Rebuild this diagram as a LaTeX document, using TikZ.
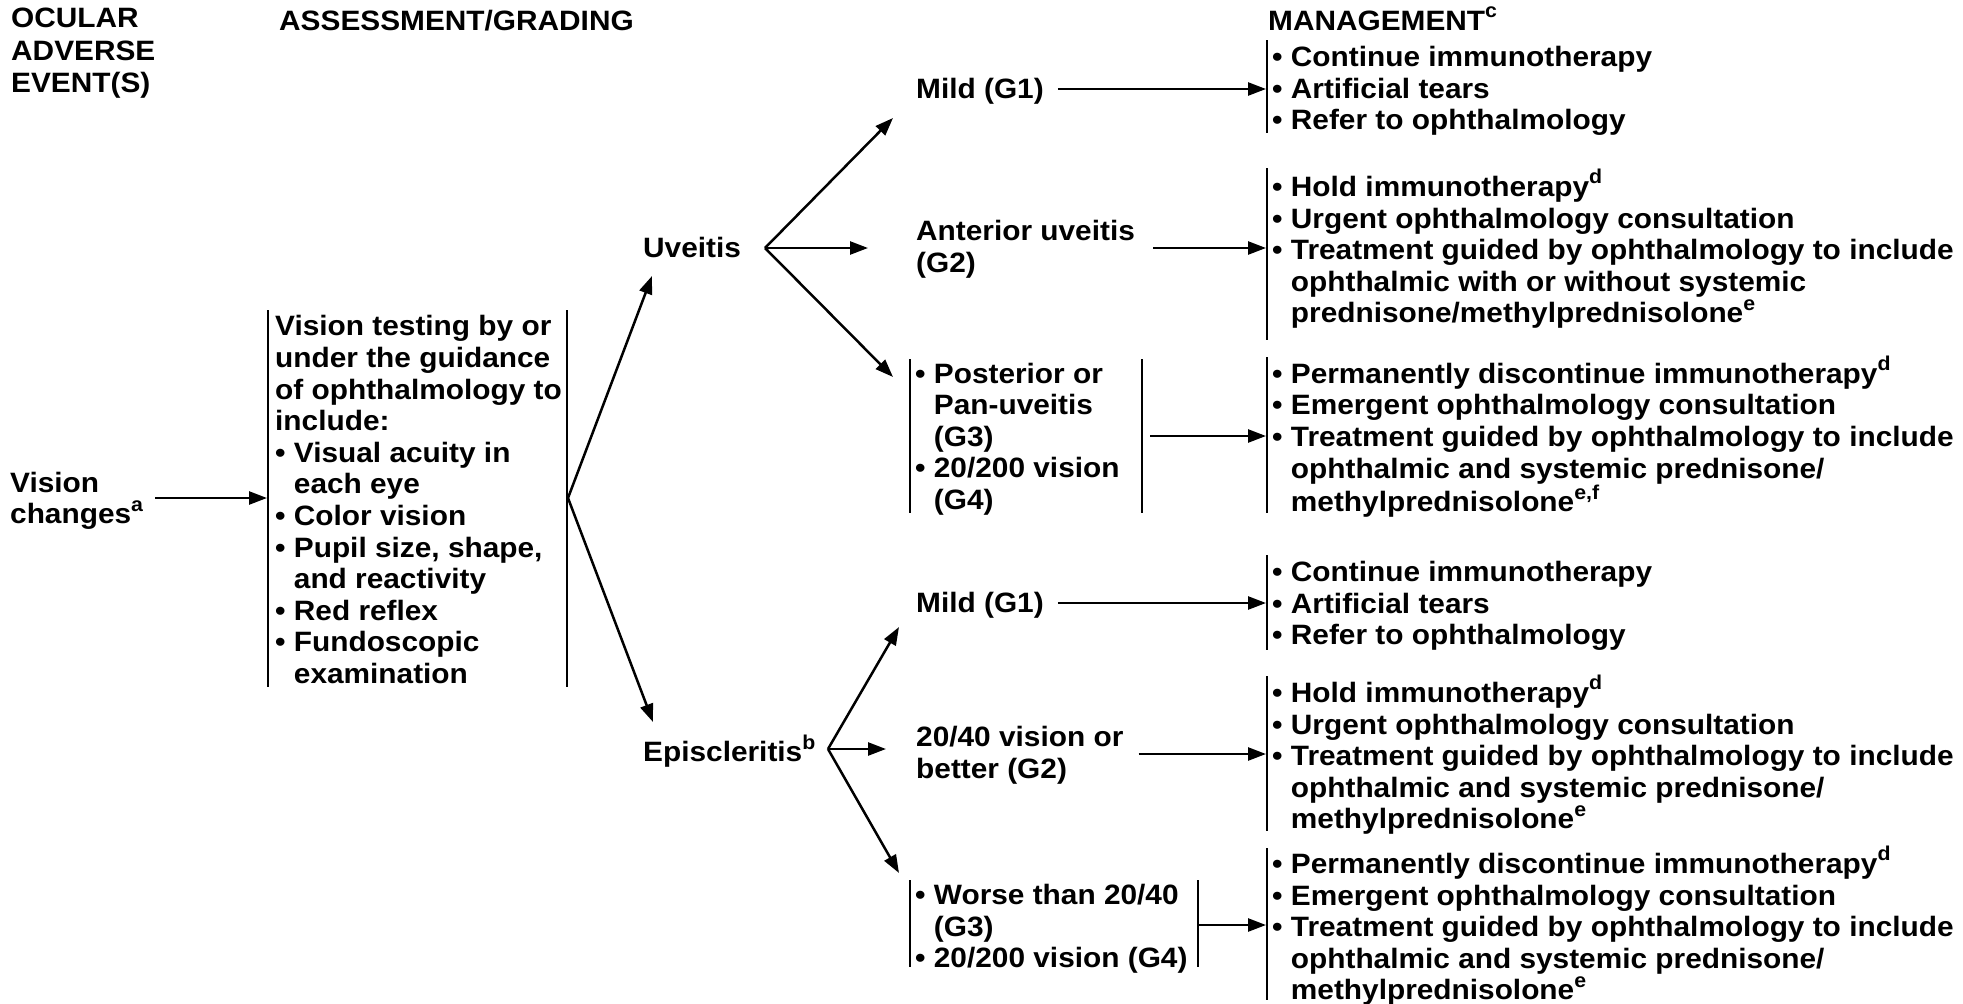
\documentclass[tikz,border=0pt]{standalone}
\usepackage{fontspec}
\newfontfamily\ff{Liberation Sans}[FakeStretch=1.065]
\usetikzlibrary{arrows.meta,calc}
\newcommand\sps[1]{\raisebox{0.45em}{\fontsize{20}{20}\selectfont #1}}
\newcommand\ind{\hphantom{• }}
\newcommand\Sx{\rule[-5pt]{0pt}{28pt}}
\tikzset{
 txt/.style={font=\ff\bfseries\fontsize{28}{31.6}\selectfont, align=left, inner sep=0pt, anchor=west,
   execute at begin node=\Sx, execute at end node=\Sx},
 hdr/.style={txt, font=\ff\bfseries\fontsize{28}{32.5}\selectfont},
 arr/.style={line width=2.5pt, -{Triangle[length=18pt,width=13pt]}},
 bar/.style={line width=2.5pt},
}
\begin{document}
\begin{tikzpicture}[x=1pt,y=-1pt]
\useasboundingbox (0,0) rectangle (1963,1004);
% headers
\node[hdr] (h1) at (11,53.5) {OCULAR\\ADVERSE\\EVENT(S)};
\node[hdr] (h2) at (279,21) {ASSESSMENT/GRADING};
\node[hdr] (h3) at (1268,21) {MANAGEMENT\sps{c}};
% first column
\node[txt] (vc) at (10,501) {Vision\\changes\sps{a}};
\node[txt] (as) at (275,502) {Vision testing by or\\under the guidance\\of ophthalmology to\\include:\\• Visual acuity in\\\ind each eye\\• Color vision\\• Pupil size, shape,\\\ind and reactivity\\• Red reflex\\• Fundoscopic\\\ind examination};
\draw[bar] (268,310) -- (268,687);
\draw[bar] (567,310) -- (567,687);
\coordinate (asL) at (267,498);
\coordinate (asF) at (568,498);
\draw[arr] ([xshift=12pt]vc.east |- asL) -- (asL);
% second column
\node[txt] (uv) at (643,248) {Uveitis};
\node[txt] (ep) at (643,751) {Episcleritis\sps{b}};
\coordinate (uvIn) at (652,276);
\coordinate (epIn) at (653,722);
\draw[arr] (asF) -- (uvIn);
\draw[arr] (asF) -- (epIn);
\coordinate (uvF) at (765,248);
\coordinate (epF) at (828,749);
% grades, uveitis
\node[txt] (m1u) at (916,89.5) {Mild (G1)};
\node[txt] (ant) at (916,249.5) {Anterior uveitis\\(G2)};
\node[txt] (post) at (915,439) {• Posterior or\\\ind Pan-uveitis\\\ind (G3)\\• 20/200 vision\\\ind (G4)};
\draw[bar] (910,359) -- (910,513);
\draw[bar] (1142,359) -- (1142,513);
\coordinate (postR) at (1142,436);
\coordinate (u1) at (893,118);
\coordinate (u2) at (868,248);
\coordinate (u3) at (893,377);
\draw[arr] (uvF) -- (u1);
\draw[arr] (uvF) -- (u2);
\draw[arr] (uvF) -- (u3);
% grades, episcleritis
\node[txt] (m1e) at (916,604) {Mild (G1)};
\node[txt] (g2e) at (916,755) {20/40 vision or\\better (G2)};
\node[txt] (worse) at (915,929) {• Worse than 20/40\\\ind (G3)\\• 20/200 vision (G4)};
\draw[bar] (910,880) -- (910,967);
\draw[bar] (1198,880) -- (1198,967);
\coordinate (worseR) at (1198,925);
\coordinate (e1) at (899,627);
\coordinate (e2) at (886,749);
\coordinate (e3) at (899,873);
\draw[arr] (epF) -- (e1);
\draw[arr] (epF) -- (e2);
\draw[arr] (epF) -- (e3);
% management
\node[txt] (M1) at (1272,91) {• Continue immunotherapy\\• Artificial tears\\• Refer to ophthalmology};
\node[txt] (M2) at (1272,249) {• Hold immunotherapy\sps{d}\\• Urgent ophthalmology consultation\\• Treatment guided by ophthalmology to include\\\ind ophthalmic with or without systemic\\\ind prednisone/methylprednisolone\sps{e}};
\node[txt] (M3) at (1272,437) {• Permanently discontinue immunotherapy\sps{d}\\• Emergent ophthalmology consultation\\• Treatment guided by ophthalmology to include\\\ind ophthalmic and systemic prednisone/\\\ind methylprednisolone\sps{e,f}};
\node[txt] (M4) at (1272,606) {• Continue immunotherapy\\• Artificial tears\\• Refer to ophthalmology};
\node[txt] (M5) at (1272,755) {• Hold immunotherapy\sps{d}\\• Urgent ophthalmology consultation\\• Treatment guided by ophthalmology to include\\\ind ophthalmic and systemic prednisone/\\\ind methylprednisolone\sps{e}};
\node[txt] (M6) at (1272,926) {• Permanently discontinue immunotherapy\sps{d}\\• Emergent ophthalmology consultation\\• Treatment guided by ophthalmology to include\\\ind ophthalmic and systemic prednisone/\\\ind methylprednisolone\sps{e}};
\draw[bar] (1267,40) -- (1267,133);
\draw[bar] (1267,168) -- (1267,340);
\draw[bar] (1267,357) -- (1267,513);
\draw[bar] (1267,555) -- (1267,650);
\draw[bar] (1267,676) -- (1267,831);
\draw[bar] (1267,848) -- (1267,1000);
\coordinate (M1in) at (1266,89);
\coordinate (M2in) at (1266,248);
\coordinate (M3in) at (1266,436);
\coordinate (M4in) at (1266,603);
\coordinate (M5in) at (1266,754);
\coordinate (M6in) at (1266,925);
\draw[arr] ([xshift=14pt]m1u.east |- M1in) -- (M1in);
\draw[arr] ([xshift=18pt]ant.east |- M2in) -- (M2in);
\draw[arr] ([xshift=8pt]postR) -- (M3in);
\draw[arr] ([xshift=14pt]m1e.east |- M4in) -- (M4in);
\draw[arr] ([xshift=15pt]g2e.east |- M5in) -- (M5in);
\draw[arr] (worseR) -- (M6in);
\end{tikzpicture}
\end{document}
